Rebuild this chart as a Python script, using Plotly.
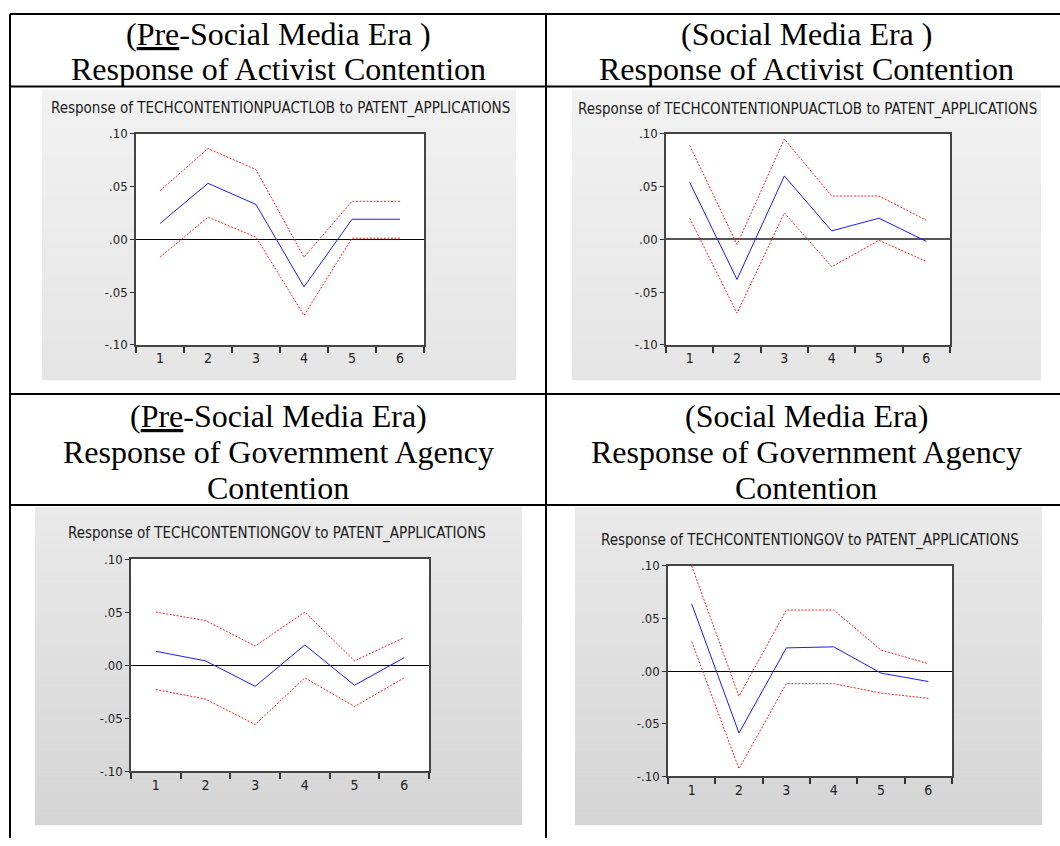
import plotly.graph_objects as go

# ---- impulse responses (period 1..6) ----
periods = ["1", "2", "3", "4", "5", "6"]

act_pre_resp = [0.015, 0.053, 0.033, -0.045, 0.019, 0.019]
act_pre_upper = [0.046, 0.086, 0.066, -0.017, 0.036, 0.036]
act_pre_lower = [-0.017, 0.021, 0.002, -0.072, 0.001, 0.001]

act_sm_resp = [0.054, -0.038, 0.060, 0.008, 0.020, -0.002]
act_sm_upper = [0.089, -0.005, 0.095, 0.041, 0.041, 0.018]
act_sm_lower = [0.020, -0.070, 0.025, -0.026, -0.001, -0.021]

gov_pre_resp = [0.013, 0.004, -0.020, 0.019, -0.019, 0.007]
gov_pre_upper = [0.050, 0.042, 0.018, 0.050, 0.004, 0.026]
gov_pre_lower = [-0.023, -0.032, -0.056, -0.012, -0.039, -0.012]

gov_sm_resp = [0.064, -0.059, 0.022, 0.023, -0.002, -0.010]
gov_sm_upper = [0.100, -0.024, 0.058, 0.058, 0.020, 0.007]
gov_sm_lower = [0.028, -0.093, -0.012, -0.012, -0.021, -0.026]

y_tickvals = [-0.10, -0.05, 0.0, 0.05, 0.10]
y_ticktext = ["-.10", "-.05", ".00", ".05", ".10"]

chart_titles = [
    "Response of TECHCONTENTIONPUACTLOB to PATENT_APPLICATIONS",
    "Response of TECHCONTENTIONPUACTLOB to PATENT_APPLICATIONS",
    "Response of TECHCONTENTIONGOV to PATENT_APPLICATIONS",
    "Response of TECHCONTENTIONGOV to PATENT_APPLICATIONS",
]

W, H = 1060, 846
NARROW = "Liberation Sans Narrow, Arial Narrow, DejaVu Sans Condensed, Roboto Condensed, sans-serif"
SERIF = "Liberation Serif, Times New Roman, serif"


def fx(px):
    return px / W


def fy(py):
    return 1 - py / H


# panel layout in pixels: grey box, plot box, title centre, gradient colours, zero-line style
panels = [
    dict(box=(42, 84, 516, 380), plot=(136, 129, 424, 344), title=(280, 103),
         grad=((241, 241, 241), (229, 229, 229)), zero=("#000000", 1),
         series=(act_pre_resp, act_pre_upper, act_pre_lower)),
    dict(box=(572, 84, 1041, 380), plot=(666, 129, 950, 344), title=(807, 104),
         grad=((241, 241, 241), (229, 229, 229)), zero=("#555555", 2),
         series=(act_sm_resp, act_sm_upper, act_sm_lower)),
    dict(box=(35, 509, 522, 833), plot=(131, 562, 429, 778), title=(277, 536),
         grad=((233, 233, 233), (213, 213, 213)), zero=("#000000", 1),
         series=(gov_pre_resp, gov_pre_upper, gov_pre_lower)),
    dict(box=(575, 509, 1042, 833), plot=(668, 569, 952, 783), title=(810, 543),
         grad=((233, 233, 233), (213, 213, 213)), zero=("#000000", 1),
         series=(gov_sm_resp, gov_sm_upper, gov_sm_lower)),
]

fig = go.Figure()
shapes = []
annotations = []
layout_axes = {}

for i, p in enumerate(panels, start=1):
    x0, y0, x1, y1 = p["box"]
    c0, c1 = p["grad"]
    nb = 30
    for k in range(nb):
        t = k / (nb - 1)
        col = tuple(round(c0[j] + (c1[j] - c0[j]) * t) for j in range(3))
        ya = y0 + (y1 - y0) * k / nb
        yb = y0 + (y1 - y0) * (k + 1) / nb + 0.6
        shapes.append(dict(type="rect", xref="paper", yref="paper", layer="below",
                           x0=fx(x0), x1=fx(x1), y0=fy(min(yb, y1)), y1=fy(ya),
                           line=dict(width=0), fillcolor="rgb(%d,%d,%d)" % col))
    px0, py0, px1, py1 = p["plot"]
    shapes.append(dict(type="rect", xref="paper", yref="paper", layer="below",
                       x0=fx(px0), x1=fx(px1), y0=fy(py1), y1=fy(py0),
                       line=dict(width=0), fillcolor="white"))

    tx, ty = p["title"]
    annotations.append(dict(xref="paper", yref="paper", x=fx(tx), y=fy(ty),
                            xanchor="center", yanchor="middle", showarrow=False,
                            text=chart_titles[i - 1],
                            font=dict(family=NARROW, size=15, color="#1a1a1a")))

    xa = "x" if i == 1 else "x%d" % i
    ya_ = "y" if i == 1 else "y%d" % i
    resp, upper, lower = p["series"]
    fig.add_trace(go.Scatter(x=periods, y=upper, mode="lines", xaxis=xa, yaxis=ya_,
                             line=dict(color="#ff2020", width=1, dash="2px,1.5px"),
                             showlegend=False, hoverinfo="skip"))
    fig.add_trace(go.Scatter(x=periods, y=lower, mode="lines", xaxis=xa, yaxis=ya_,
                             line=dict(color="#ff2020", width=1, dash="2px,1.5px"),
                             showlegend=False, hoverinfo="skip"))
    fig.add_trace(go.Scatter(x=periods, y=resp, mode="lines", xaxis=xa, yaxis=ya_,
                             line=dict(color="#1a1aff", width=1),
                             showlegend=False, hoverinfo="skip"))

    xkey = "xaxis" if i == 1 else "xaxis%d" % i
    ykey = "yaxis" if i == 1 else "yaxis%d" % i
    zc, zw = p["zero"]
    layout_axes[xkey] = dict(
        domain=[fx(px0), fx(px1)], anchor=ya_, type="category",
        categoryorder="array", categoryarray=periods, range=[-0.5, 5.5],
        tickson="boundaries", ticks="outside", ticklen=6, tickwidth=1.5,
        tickcolor="#333333", showline=True, mirror=True, linecolor="#444444",
        linewidth=1.5, showgrid=False, zeroline=False, fixedrange=True,
        tickfont=dict(family=NARROW, size=14, color="#222222"),
    )
    layout_axes[ykey] = dict(
        domain=[fy(py1), fy(py0)], anchor=xa, range=[-0.1, 0.1],
        tickvals=y_tickvals, ticktext=y_ticktext, ticks="outside", ticklen=4,
        tickwidth=1, tickcolor="#333333", showline=True, mirror=True,
        linecolor="#444444", linewidth=1.5, showgrid=False, zeroline=True,
        zerolinecolor=zc, zerolinewidth=zw, fixedrange=True,
        tickfont=dict(family=NARROW, size=13, color="#222222"),
    )

# table rules
rule = dict(color="black", width=2)
for (a, b, c, d) in [
    (10, 7, 1060, 7), (10, 81, 1060, 81), (10, 394, 1060, 394), (10, 507, 1060, 507),
    (10, 7, 10, 846), (546, 7, 546, 846),
]:
    shapes.append(dict(type="line", xref="paper", yref="paper", layer="above",
                       x0=fx(a), y0=fy(b), x1=fx(c), y1=fy(d), line=rule))

# header cells
header_lines = [
    (278, 27, "(<u>Pre</u>-Social Media Era )"),
    (278, 63, "Response of Activist Contention"),
    (806, 27, "(Social Media Era )"),
    (806, 63, "Response of Activist Contention"),
    (278, 416, "(<u>Pre</u>-Social Media Era)"),
    (278, 453, "Response of Government Agency"),
    (278, 490, "Contention"),
    (806, 416, "(Social Media Era)"),
    (806, 453, "Response of Government Agency"),
    (806, 490, "Contention"),
]
for x, y, t in header_lines:
    annotations.append(dict(xref="paper", yref="paper", x=fx(x), y=fy(y),
                            xanchor="center", yanchor="middle", showarrow=False,
                            text=t, font=dict(family=SERIF, size=32, color="black")))

fig.update_layout(
    width=W, height=H, margin=dict(l=0, r=0, t=0, b=0),
    paper_bgcolor="white", plot_bgcolor="rgba(0,0,0,0)",
    shapes=shapes, annotations=annotations, showlegend=False,
    **layout_axes,
)

fig.write_html("out.html")
